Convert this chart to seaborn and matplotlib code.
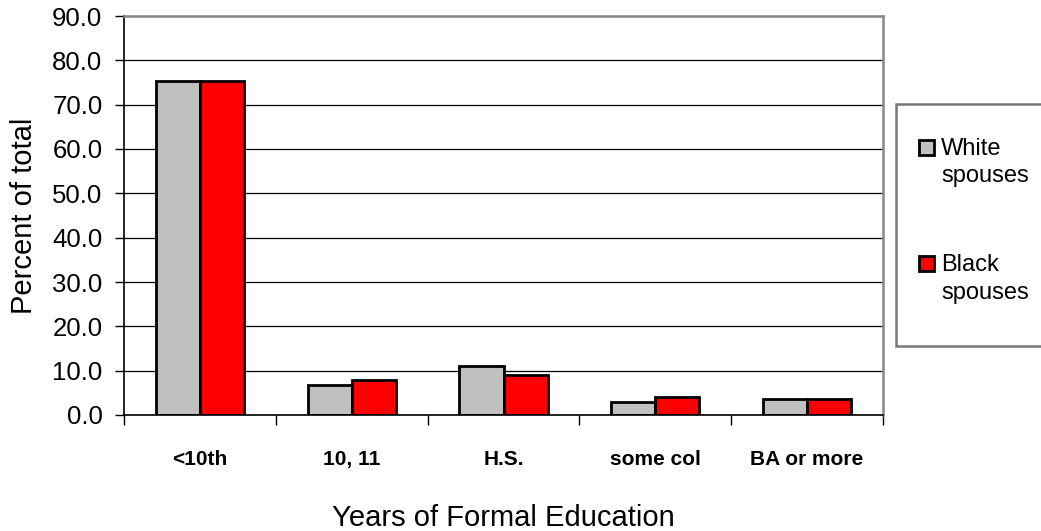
import matplotlib
matplotlib.use("Agg")
import matplotlib.pyplot as plt
import seaborn as sns
import pandas as pd
from matplotlib.patches import Patch, Rectangle
from matplotlib.legend_handler import HandlerPatch

categories = ["<10th", "10, 11", "H.S.", "some col", "BA or more"]
white_spouses = [75.4, 6.8, 11.1, 2.9, 3.5]
black_spouses = [75.4, 7.8, 9.0, 4.0, 3.5]
series_names = ["White\nspouses", "Black\nspouses"]
colors = ["#C0C0C0", "#FF0000"]
yticks = [0, 10, 20, 30, 40, 50, 60, 70, 80, 90]

df = pd.DataFrame({
    "cat": categories * 2,
    "val": white_spouses + black_spouses,
    "series": [series_names[0]] * 5 + [series_names[1]] * 5,
})

sns.set_style("white", rc={"text.color": "black", "axes.labelcolor": "black",
                           "xtick.color": "black", "ytick.color": "black"})
plt.rcParams["font.family"] = ["Liberation Sans", "DejaVu Sans"]

W, H = 1041, 531
fig = plt.figure(figsize=(W / 100, H / 100), dpi=100)
ax = fig.add_axes([124 / W, 116 / H, 759 / W, 399 / H])

sns.barplot(data=df, x="cat", y="val", hue="series", order=categories,
            hue_order=series_names, palette=colors, width=0.58, gap=0,
            edgecolor="black", linewidth=2, saturation=1, ax=ax,
            legend=False, errorbar=None)

ax.set_ylim(0, 90)
ax.set_xlim(-0.5, 4.5)
ax.set_yticks(yticks)
ax.set_yticklabels([f"{v:.1f}" for v in yticks], fontsize=18.5)
ax.yaxis.grid(True, color="black", linewidth=0.9)
ax.set_axisbelow(True)
ax.set_xticks(range(5))
ax.set_xticklabels(categories, fontsize=15, fontweight="bold")
ax.tick_params(axis="x", length=0, pad=25)
ax.tick_params(axis="y", length=6.5, width=1, color="black", direction="out", pad=9, left=True)
ax.set_xticks([0.5, 1.5, 2.5, 3.5, -0.5, 4.5], minor=True)
ax.tick_params(axis="x", which="minor", length=7, width=1, color="black", direction="out", bottom=True)

for s in ["left", "bottom"]:
    ax.spines[s].set_color("black")
    ax.spines[s].set_linewidth(1.2)
for s in ["top", "right"]:
    ax.spines[s].set_color("#888888")
    ax.spines[s].set_linewidth(1.8)
    ax.spines[s].set_visible(True)

ax.set_xlabel("Years of Formal Education", fontsize=21)
ax.xaxis.set_label_coords(0.5, -0.222)
ax.set_ylabel("Percent of total", fontsize=21)
ax.yaxis.set_label_coords(-0.113, 0.5)

# legend frame
fig.add_artist(Rectangle((896 / W, (H - 346) / H), 160 / W, 242 / H,
                         transform=fig.transFigure, facecolor="white",
                         edgecolor="#777777", linewidth=1.8, zorder=0))

LEG_FS = 17


def square(legend, orig_handle, xdescent, ydescent, width, height, fontsize):
    side = width
    y = -ydescent + height / 2 - side / 2 + 0.65 * fontsize
    return Rectangle((-xdescent, y), side, side)


handles = [Patch(facecolor=c, edgecolor="black", linewidth=2) for c in colors]
leg = fig.legend(handles, series_names, loc="upper left",
                 bbox_to_anchor=(919 / W, (H - 137.5) / H), fontsize=LEG_FS,
                 frameon=False, handlelength=0.64, handleheight=0.64,
                 handletextpad=0.3, labelspacing=2.85, borderpad=0,
                 borderaxespad=0,
                 handler_map={Patch: HandlerPatch(patch_func=square)})
for t in leg.get_texts():
    t.set_linespacing(1.32)

fig.savefig("out.png", dpi=100)
